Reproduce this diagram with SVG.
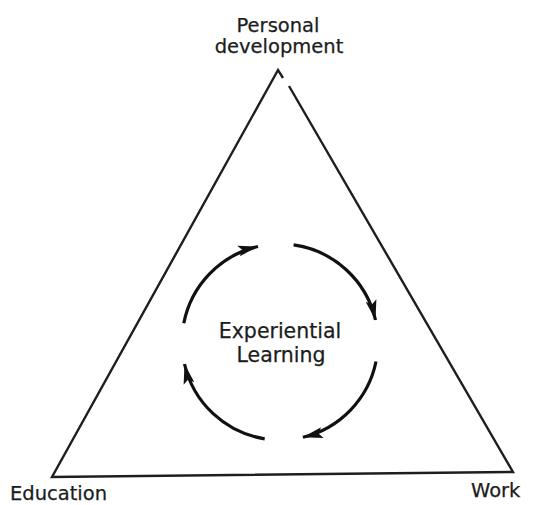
<svg xmlns="http://www.w3.org/2000/svg" width="541" height="505" viewBox="0 0 541 505">
<defs>
<style>
.lbl{font-family:"DejaVu Sans","Liberation Sans",sans-serif;fill:#1c1c1c;font-size:19.5px;stroke:#1c1c1c;stroke-width:0.25}
.ctr{font-size:20.5px}
.edge{fill:none;stroke:#1e1e1e;stroke-width:2.4;stroke-linejoin:miter}
.arc{fill:none;stroke:#111;stroke-width:3.2;marker-end:url(#ah)}
</style>
<marker id="ah" markerUnits="userSpaceOnUse" markerWidth="26" markerHeight="16" viewBox="-23 -8 25 16" refX="0" refY="0" orient="auto">
<path d="M0,0 L-20,-5.5 L-16,0 L-20,5.5 Z" fill="#111"/>
</marker>
</defs>
<rect width="541" height="505" fill="#fff"/>
<g id="triangle">
<path class="edge" d="M289,86 L513,472 L52,477 L278,70 L283,78"/>
</g>
<g id="node-personal">
<text class="lbl" x="278" y="32" text-anchor="middle">Personal</text>
<text class="lbl" x="279" y="53" text-anchor="middle">development</text>
</g>
<g id="node-education">
<text class="lbl" x="10" y="500">Education</text>
</g>
<g id="node-work">
<text class="lbl" x="471" y="497">Work</text>
</g>
<g id="node-experiential">
<text class="lbl ctr" x="280" y="338" text-anchor="middle">Experiential</text>
<text class="lbl ctr" x="281" y="362" text-anchor="middle">Learning</text>
</g>
<g id="connectors">
<path class="arc" d="M183.8,323.3 A98,98 0 0 1 258,246.5"/>
<path class="arc" d="M293.6,244.9 A98,98 0 0 1 375.5,320"/>
<path class="arc" d="M376,361.5 A98,98 0 0 1 302.9,437.3"/>
<path class="arc" d="M264.7,438.8 A98,98 0 0 1 184.5,364"/>
</g>
</svg>
